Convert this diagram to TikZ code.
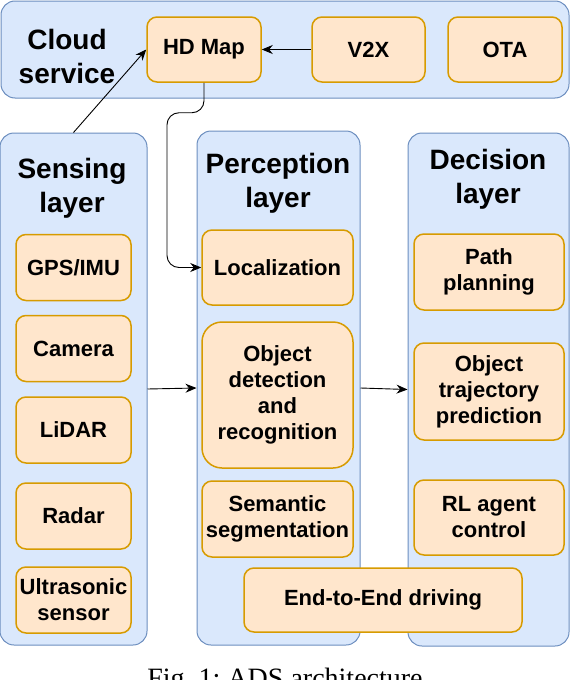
\documentclass[tikz,border=0pt]{standalone}
\usepackage{fontspec}
\setmainfont{Liberation Sans}
\newfontfamily\capfont{Liberation Serif}
\usetikzlibrary{positioning,arrows.meta}

\definecolor{layerfill}{HTML}{DAE8FC}
\definecolor{layerdraw}{HTML}{6C8EBF}
\definecolor{unitfill}{HTML}{FFE6CC}
\definecolor{unitdraw}{HTML}{D79B00}

\tikzset{
  layer/.style={draw=layerdraw, fill=layerfill, line width=1pt, rounded corners=14pt, inner sep=0pt},
  unit/.style={draw=unitdraw, fill=unitfill, line width=1.5pt, rounded corners=10pt, inner sep=0pt,
    align=center, font=\bfseries\fontsize{22}{26}\selectfont},
  title/.style={align=center, font=\bfseries\fontsize{28}{34}\selectfont},
  arr/.style={-{Stealth[length=11pt,width=9pt]}, line width=0.9pt},
}

\begin{document}
\begin{tikzpicture}[x=1pt,y=-1pt]
\useasboundingbox (0,0) rectangle (570,680);
\clip (0,0) rectangle (570,680);

% Draw the layers
\node[layer, minimum width=568, minimum height=97] (cloud) at (285,49.5) {};
\node[layer, minimum width=147, minimum height=512] (sensing) at (73.5,389) {};
\node[layer, minimum width=163, minimum height=514] (perception) at (278.5,388) {};
\node[layer, minimum width=161, minimum height=513] (decision) at (488.5,389.5) {};

% Layer titles
\node[title] (cloudtitle) at (67,56) {Cloud\\service};
\node[title] (sensingtitle) at (72,188) {Sensing\\layer};
\node[title] (perceptiontitle) at (278,183) {Perception\\layer};
\node[title] (decisiontitle) at (488,179) {Decision\\layer};

% Cloud service
\node[unit, minimum width=114, minimum height=65] (hdmap) at (204,49.5) {HD Map};
\node[unit, minimum width=113, minimum height=65] (v2x) at (368.5,49.5) {V2X};
\node[unit, minimum width=114, minimum height=65] (ota) at (505,49.5) {OTA};

% Sensing layer
\foreach \name/\y/\txt in {gps/267.5/{GPS/IMU}, camera/348.5/Camera, lidar/430/LiDAR,
                           radar/516/Radar, ultrasonic/600/{Ultrasonic\\sensor}}{
  \node[unit, minimum width=115, minimum height=66] (\name) at (73.5,\y) {\txt};
}

% Perception layer
\node[unit, minimum width=151, minimum height=75] (localization) at (277.5,267.5) {Localization};
\node[unit, minimum width=151, minimum height=146, rounded corners=20pt] (detection) at (277.5,395)
  {Object\\detection\\and\\recognition};
\node[unit, minimum width=151, minimum height=76] (segmentation) at (277.5,519) {Semantic\\segmentation};

% Decision layer
\node[unit, minimum width=150, minimum height=76] (planning) at (489,272) {Path\\planning};
\node[unit, minimum width=150, minimum height=97] (trajectory) at (489,391.5) {Object\\trajectory\\prediction};
\node[unit, minimum width=150, minimum height=75] (rlagent) at (489,517.5) {RL agent\\control};

\node[unit, minimum width=278, minimum height=64] (endtoend) at (383,600) {End-to-End driving};

% Connections
\draw[arr] (v2x) -- (hdmap);
\draw[arr] (sensing.north) -- (hdmap.west);
\draw[arr, rounded corners=12pt] (hdmap.south) |- ++(-37,30) |- (localization.west);
\draw[arr] (sensing.east) -- (perception.west);
\draw[arr] (perception.east) -- (decision.west);

% Caption
\node[font=\capfont\fontsize{28}{32}\selectfont, anchor=base] (caption) at (285,687) {Fig.~1:~ADS architecture};
\end{tikzpicture}
\end{document}
